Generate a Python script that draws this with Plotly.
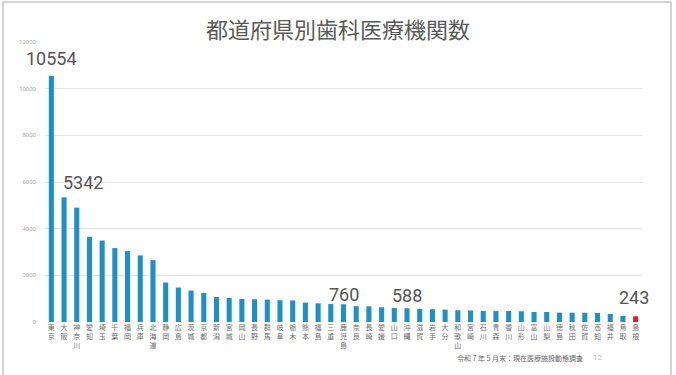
import plotly.graph_objects as go

prefectures = ["東京", "大阪", "神奈川", "愛知", "埼玉", "千葉", "福岡", "兵庫", "北海道", "静岡",
               "広島", "茨城", "京都", "新潟", "宮城", "岡山", "長野", "群馬", "岐阜", "栃木",
               "熊本", "福島", "三重", "鹿児島", "奈良", "長崎", "愛媛", "山口", "沖縄", "滋賀",
               "岩手", "大分", "和歌山", "宮崎", "石川", "青森", "香川", "山形", "富山", "山梨",
               "徳島", "秋田", "佐賀", "高知", "福井", "鳥取", "島根"]
clinics = [10554, 5342, 4901, 3654, 3490, 3168, 3039, 2853, 2652, 1692,
           1477, 1348, 1245, 1073, 1030, 985, 975, 960, 930, 925,
           830, 800, 770, 760, 680, 670, 630, 600, 588, 565,
           545, 530, 500, 495, 475, 470, 468, 458, 430, 428,
           400, 398, 396, 385, 345, 265, 243]
highlight = ["東京", "大阪", "鹿児島", "沖縄", "島根"]
label_shift = {"東京": (0, 17), "大阪": (19, 15), "鹿児島": (0, 10), "沖縄": (0, 13), "島根": (-2, 19)}
y_ticks = [0, 2000, 4000, 6000, 8000, 10000, 12000]
y_tick_text = ["0", "2000", "4000", "6000", "8000", "10000", "12000"]

tick_text = ["<br>".join(list(p)) for p in prefectures]
colors = ["#e3172d" if p == "島根" else "#1f90c3" for p in prefectures]

fig = go.Figure(go.Bar(
    x=prefectures, y=clinics, marker=dict(color=colors, line=dict(width=0)),
    hoverinfo="x+y"))

for p, v in zip(prefectures, clinics):
    if p in highlight:
        dx, dy = label_shift[p]
        fig.add_annotation(x=p, y=v, text=str(v), showarrow=False,
                           yanchor="middle", yshift=dy, xshift=dx,
                           font=dict(family="Roboto", size=18, color="#555555"))

fig.add_annotation(xref="paper", yref="paper", x=0.796, y=-0.13, xanchor="center", yanchor="middle",
                   text="令和７年５月末：現在医療施設動態調査",
                   showarrow=False, font=dict(family="Noto Sans CJK JP", size=7, color="#666666"))
fig.add_annotation(xref="paper", yref="paper", x=0.925, y=-0.128, xanchor="center", yanchor="middle",
                   text="12",
                   showarrow=False, font=dict(family="Roboto", size=8, color="#bbbbbb"))

# slide border
fig.add_shape(type="rect", xref="paper", yref="paper",
              x0=(3 - 45) / 597, x1=(671 - 45) / 597,
              y0=-0.3, y1=1 + (42 - 2) / 279.65,
              line=dict(color="#c8c8c8", width=1.5), fillcolor="rgba(0,0,0,0)", layer="below")

fig.update_layout(
    width=676, height=375,
    margin=dict(l=45, r=34, t=42, b=53),
    paper_bgcolor="white", plot_bgcolor="white",
    bargap=0.6, showlegend=False,
    title=dict(text="都道府県別歯科医療機関数", x=0.5, xanchor="center", y=0.92, yanchor="middle",
               font=dict(family="Noto Sans CJK JP", size=22, color="#595959")),
    xaxis=dict(tickvals=prefectures, ticktext=tick_text, tickangle=0, showgrid=False, showline=False,
               ticks="", automargin=False, range=[-0.5, len(prefectures) - 0.5], autorange=False,
               tickfont=dict(family="Noto Sans CJK JP", size=7, color="#6a6a6a")),
    yaxis=dict(range=[0, 12000], autorange=False, tickvals=y_ticks, ticktext=y_tick_text, showgrid=True,
               gridcolor="#e6e6e6", gridwidth=1, automargin=False,
               zeroline=False, showline=False, ticks="", ticklabelstandoff=8,
               tickfont=dict(family="Roboto", size=6, color="#aaaaaa")),
)

fig.write_html("out.html")
